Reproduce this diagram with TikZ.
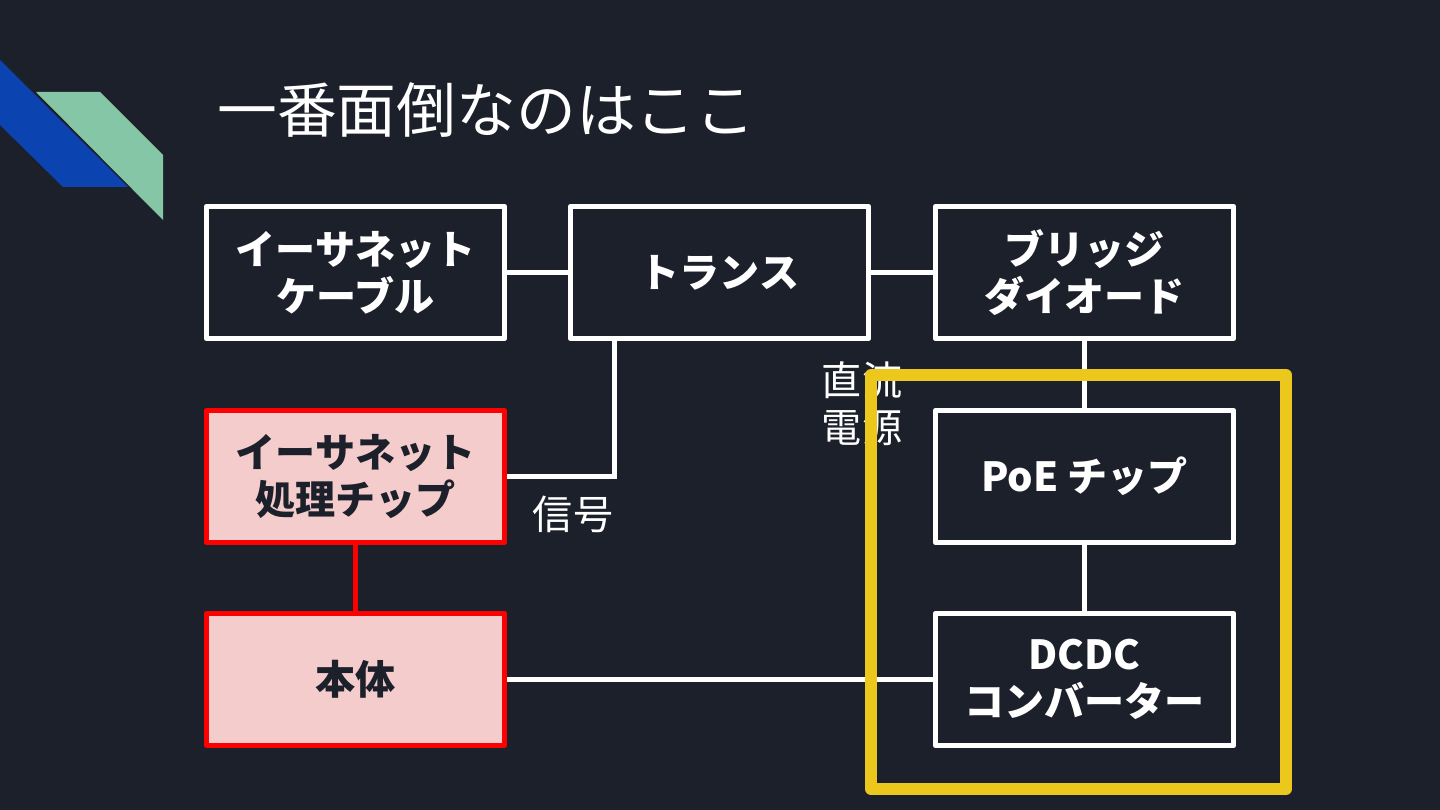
\documentclass[tikz,border=0pt]{standalone}
\usepackage{fontspec}
\setmainfont{Noto Sans CJK JP}
\usetikzlibrary{positioning}

\definecolor{bgnavy}{RGB}{28,32,43}
\definecolor{boxpink}{RGB}{244,204,204}
\definecolor{boxred}{RGB}{255,0,0}
\definecolor{markyellow}{RGB}{236,200,28}
\definecolor{decoblue}{RGB}{11,68,176}
\definecolor{decogreen}{RGB}{133,198,166}

\tikzset{
  blk/.style={draw=white,line width=1.5pt,line join=round,minimum width=2.98cm,
    minimum height=1.32cm,align=center,text=white,
    font=\fontsize{11.4}{13.4}\selectfont\bfseries},
  redblk/.style={blk,draw=boxred,fill=boxpink,text=bgnavy},
  wire/.style={white,line width=1.4pt},
  redwire/.style={boxred,line width=1.4pt},
  note/.style={text=white,align=left,font=\fontsize{11.4}{13.4}\selectfont}
}

\begin{document}
\begin{tikzpicture}[x=0.01cm,y=-0.01cm]
\fill[bgnavy] (0,0) rectangle (1440,810);
\useasboundingbox (0,0) rectangle (1440,810);
% corner decoration
\fill[decoblue] (0,60) -- (128,187) -- (63,187) -- (0,125) -- cycle;
\fill[decogreen] (36,92) -- (100,92) -- (163,155) -- (163,220) -- cycle;
% title
\node[anchor=west,text=white,font=\fontsize{17}{20}\selectfont] (title) at (205,110) {一番面倒なのはここ};

% blocks
\node[blk] (cable) at (355.5,272.5) {イーサネット\\ケーブル};
\node[blk] (trans) at (719.5,272.5) {トランス};
\node[blk] (bridge) at (1084.5,272.5) {ブリッジ\\ダイオード};
\node[redblk] (ethchip) at (355.5,476.5) {イーサネット\\処理チップ};
\node[redblk] (body) at (355.5,679.5) {本体};
\node[blk] (poe) at (1084.5,476.5) {PoE チップ};
\node[blk] (dcdc) at (1084.5,679.5) {DCDC\\コンバーター};

% connectors
\draw[wire] ([xshift=-1.045cm]trans.south) |- (ethchip.east);
\draw[wire] (cable) -- (trans);
\draw[wire] (trans) -- (bridge);
\draw[wire] (bridge) -- (poe);
\draw[wire] (poe) -- (dcdc);
\draw[redwire] (ethchip) -- (body);
\draw[wire] (body) -- (dcdc);

% labels
\node[note] (sig) at (573,514) {信号};
\node[note] (dcpow) at (862,404) {直流\\電源};

% highlight
\draw[markyellow,line width=3.4pt,line join=round] (871,375) rectangle (1286,789);
\end{tikzpicture}
\end{document}
